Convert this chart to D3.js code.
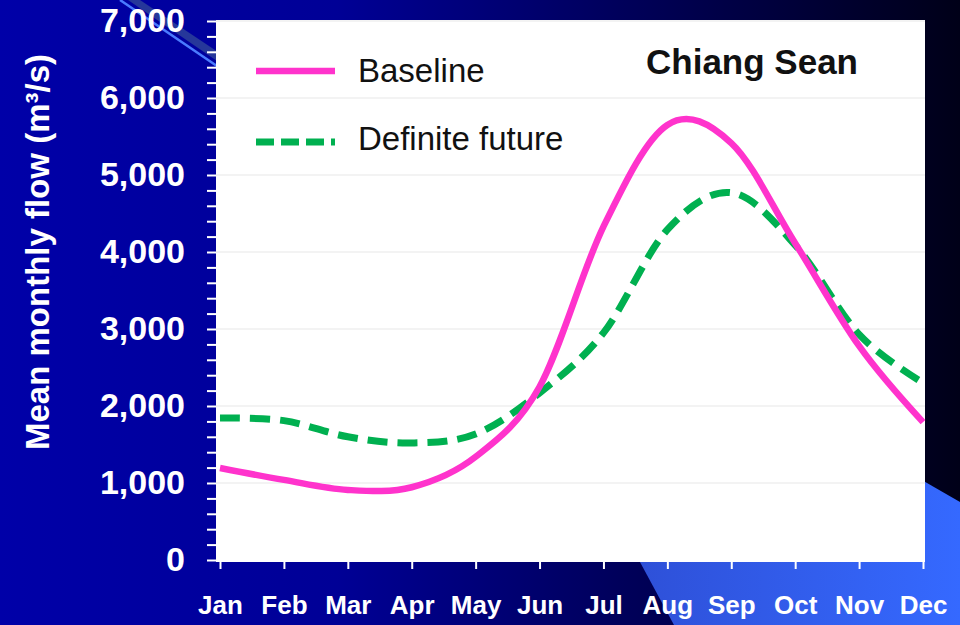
<!DOCTYPE html>
<html>
<head>
<meta charset="utf-8">
<script src="https://cdn.jsdelivr.net/npm/d3@7"></script>
<style>
  html, body { margin: 0; padding: 0; background: #000; }
  svg { display: block; font-family: 'Liberation Sans', Arial, sans-serif; }
</style>
</head>
<body>
<script>
// chart data
const months = ['Jan', 'Feb', 'Mar', 'Apr', 'May', 'Jun', 'Jul', 'Aug', 'Sep', 'Oct', 'Nov', 'Dec'];
const baseline = [1195, 1040, 910, 945, 1340, 2250, 4330, 5650, 5415, 4115, 2780, 1790];
const definiteFuture = [1845, 1810, 1600, 1520, 1636, 2170, 2950, 4290, 4770, 4090, 2930, 2300];
const yMajorTicks = [0, 1000, 2000, 3000, 4000, 5000, 6000, 7000];
const seriesNames = ['Baseline', 'Definite future'];

const W = 960, H = 625;
const plot = { left: 216, right: 925, top: 20, bottom: 562 };

const svg = d3.select('body').append('svg').attr('width', W).attr('height', H);
const defs = svg.append('defs');

// slide background
const bg = defs.append('linearGradient').attr('id', 'bg').attr('x1', 0).attr('x2', 1).attr('y1', 0).attr('y2', 0);
bg.append('stop').attr('offset', '0%').attr('stop-color', '#0000a8');
bg.append('stop').attr('offset', '35%').attr('stop-color', '#000096');
bg.append('stop').attr('offset', '65%').attr('stop-color', '#00005a');
bg.append('stop').attr('offset', '100%').attr('stop-color', '#000018');
svg.append('rect').attr('width', W).attr('height', H).attr('fill', 'url(#bg)');

const band = defs.append('linearGradient').attr('id', 'band').attr('x1', 0).attr('x2', 1).attr('y1', 0).attr('y2', 0);
band.append('stop').attr('offset', '0%').attr('stop-color', '#2e4fd6');
band.append('stop').attr('offset', '100%').attr('stop-color', '#3569ff');
svg.append('path')
    .attr('d', 'M620,525 L674,625 L960,625 L960,502 L927,483 L700,355 Z')
    .attr('fill', 'url(#band)');

// thin decorative diagonal at top left
svg.append('path').attr('d', 'M128,0 L236,74 L236,64 L140,0 Z').attr('fill', '#26379a');
svg.append('line').attr('x1', 120).attr('y1', 0).attr('x2', 236).attr('y2', 79)
    .attr('stroke', '#4a7bff').attr('stroke-width', 2.5);

// plot area
svg.append('rect')
    .attr('x', plot.left).attr('y', plot.top)
    .attr('width', plot.right - plot.left).attr('height', plot.bottom - plot.top)
    .attr('fill', '#ffffff');

const x = d3.scalePoint().domain(months).range([220, 923]);
const y = d3.scaleLinear().domain([0, 7000]).range([560, 21]);

// gridlines
svg.append('g').selectAll('line').data(yMajorTicks.filter((d) => d > 0)).join('line')
    .attr('x1', plot.left).attr('x2', plot.right)
    .attr('y1', (d) => y(d)).attr('y2', (d) => y(d))
    .attr('stroke', '#efefef').attr('stroke-width', 1.5);

// y axis: minor ticks every 200, labels every 1000
const yTicks = svg.append('g').attr('transform', `translate(${plot.left},0)`)
    .call(d3.axisLeft(y).tickValues(d3.range(0, 7001, 200)).tickSize(9).tickFormat(''));
yTicks.select('.domain').remove();
yTicks.selectAll('line').attr('stroke', '#ffffff').attr('stroke-width', 2);

const yLabels = svg.append('g').attr('transform', `translate(${plot.left},0)`)
    .call(d3.axisLeft(y).tickValues(yMajorTicks).tickSize(0).tickPadding(31).tickFormat(d3.format(',')));
yLabels.select('.domain').remove();
yLabels.selectAll('text')
    .attr('fill', '#ffffff').attr('font-size', 34).attr('font-weight', 'bold')
    .attr('font-family', "'Liberation Sans', Arial, sans-serif");

// x axis
const xAxis = svg.append('g').attr('transform', `translate(0,${plot.bottom - 2})`)
    .call(d3.axisBottom(x).tickSize(9).tickPadding(27));
xAxis.select('.domain').remove();
xAxis.selectAll('line').attr('stroke', '#ffffff').attr('stroke-width', 2);
xAxis.selectAll('text')
    .attr('fill', '#ffffff').attr('font-size', 26).attr('font-weight', 'bold')
    .attr('font-family', "'Liberation Sans', Arial, sans-serif");

// y axis title
svg.append('text')
    .attr('transform', 'translate(49,252) rotate(-90)')
    .attr('text-anchor', 'middle')
    .attr('fill', '#ffffff').attr('font-size', 33).attr('font-weight', 'bold')
    .text('Mean monthly flow (m³/s)');

// series
const line = d3.line()
    .x((d, i) => x(months[i]))
    .y((d) => y(d))
    .curve(d3.curveCatmullRom.alpha(0));

svg.append('path').datum(definiteFuture)
    .attr('d', line).attr('fill', 'none')
    .attr('stroke', '#00b050').attr('stroke-width', 7)
    .attr('stroke-dasharray', '20,10');

svg.append('path').datum(baseline)
    .attr('d', line).attr('fill', 'none')
    .attr('stroke', '#ff33cc').attr('stroke-width', 6.5);

// legend
const legend = svg.append('g');
legend.append('line').attr('x1', 256).attr('x2', 335).attr('y1', 71).attr('y2', 71)
    .attr('stroke', '#ff33cc').attr('stroke-width', 6.5);
legend.append('line').attr('x1', 256).attr('x2', 335).attr('y1', 142).attr('y2', 142)
    .attr('stroke', '#00b050').attr('stroke-width', 7).attr('stroke-dasharray', '18,7');
legend.selectAll('text.lg').data(seriesNames).join('text')
    .attr('class', 'lg')
    .attr('x', 358).attr('y', (d, i) => 82 + i * 68)
    .attr('fill', '#111111').attr('font-size', 33)
    .text((d) => d);

// station title
svg.append('text')
    .attr('x', 752).attr('y', 74).attr('text-anchor', 'middle')
    .attr('fill', '#111111').attr('font-size', 35).attr('font-weight', 'bold')
    .text('Chiang Sean');
</script>
</body>
</html>
